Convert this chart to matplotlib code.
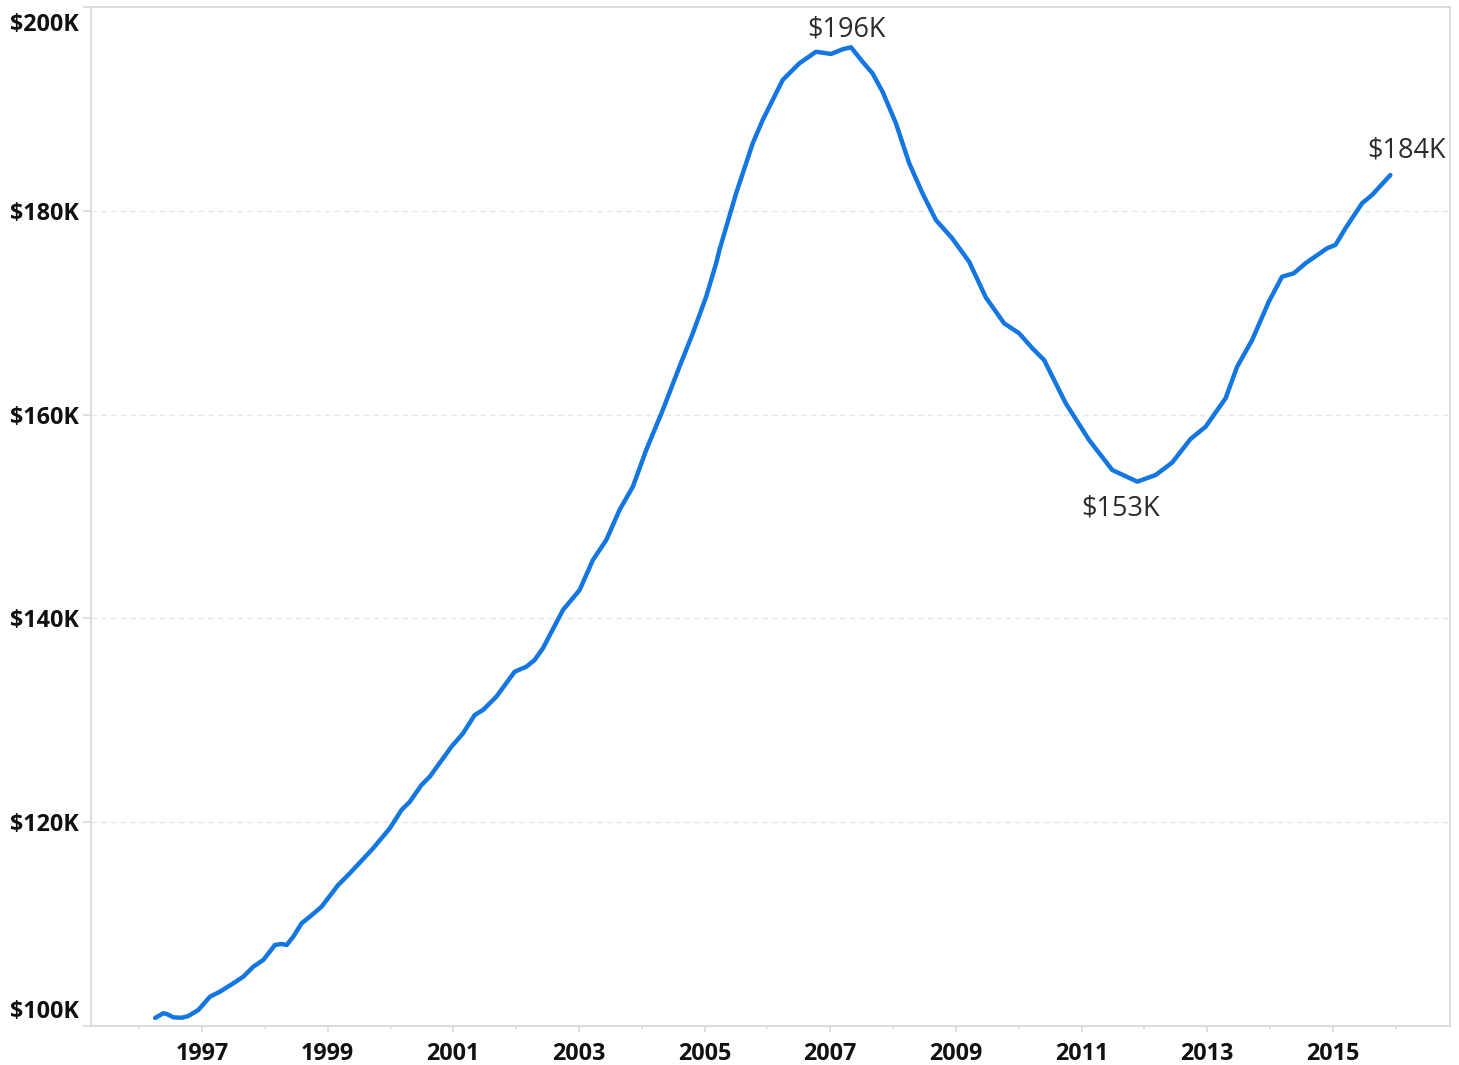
import matplotlib
matplotlib.use("Agg")
import matplotlib.pyplot as plt
import matplotlib.transforms as mtransforms

# ---- data (decimal year, median value in $K) ----
years = [1996.253, 1996.385, 1996.439, 1996.544, 1996.677, 1996.782, 1996.941,
         1997.127, 1997.286, 1997.498, 1997.657, 1997.816, 1997.975,
         1998.161, 1998.267, 1998.347, 1998.452, 1998.585, 1998.717, 1998.903,
         1999.167, 1999.353, 1999.723, 1999.989,
         2000.175, 2000.307, 2000.493, 2000.625, 2000.970,
         2001.154, 2001.340, 2001.472, 2001.685, 2001.976,
         2002.162, 2002.294, 2002.426, 2002.744, 2003.010,
         2003.221, 2003.434, 2003.645, 2003.857, 2004.070,
         2004.334, 2004.599, 2004.811, 2005.024, 2005.183, 2005.235,
         2005.501, 2005.765, 2005.924, 2006.242, 2006.507, 2006.773,
         2007.011, 2007.196, 2007.329, 2007.513, 2007.672, 2007.831,
         2008.044, 2008.256, 2008.467, 2008.680, 2008.940, 2009.210,
         2009.475, 2009.766, 2010.005, 2010.216, 2010.402, 2010.747,
         2011.118, 2011.488, 2011.886, 2012.178, 2012.442, 2012.734,
         2012.973, 2013.291, 2013.475, 2013.714, 2013.979, 2014.190,
         2014.377, 2014.563, 2014.906, 2015.040, 2015.199, 2015.463,
         2015.622, 2015.914]
values = [100.79, 101.25, 101.18, 100.85, 100.81, 100.98, 101.57,
          102.88, 103.37, 104.19, 104.84, 105.82, 106.48,
          107.95, 108.05, 107.95, 108.76, 110.08, 110.73, 111.71,
          113.84, 114.99, 117.44, 119.40,
          121.20, 122.01, 123.65, 124.47, 127.41,
          128.72, 130.52, 131.01, 132.32, 134.77,
          135.26, 135.92, 137.07, 140.82, 142.79,
          145.73, 147.69, 150.64, 152.92, 156.53,
          160.46, 164.70, 167.98, 171.57, 174.85, 176.15,
          181.72, 186.62, 188.91, 192.84, 194.47, 195.61,
          195.39, 195.85, 196.05, 194.63, 193.49, 191.69,
          188.59, 184.66, 181.72, 179.10, 177.30, 175.00,
          171.50, 168.96, 167.98, 166.51, 165.36, 161.11,
          157.51, 154.56, 153.42, 154.07, 155.30, 157.61,
          158.81, 161.60, 164.70, 167.32, 171.08, 173.53,
          173.87, 174.85, 176.32, 176.65, 178.28, 180.74,
          181.55, 183.51]

y_ticks = [100, 120, 140, 160, 180, 200]
y_labels = ["$100K", "$120K", "$140K", "$160K", "$180K", "$200K"]
x_major = [1997, 1999, 2001, 2003, 2005, 2007, 2009, 2011, 2013, 2015]
x_minor = [1996, 1998, 2000, 2002, 2004, 2006, 2008, 2010, 2012, 2014, 2016]

ann_text = ["$196K", "$153K", "$184K"]

LINE = "#1476E0"
FRAME = "#D9D9D9"

W, H = 1459, 1065
fig = plt.figure(figsize=(W / 100, H / 100), dpi=100)
ax = fig.add_axes([91 / W, (H - 1026) / H, (1450 - 91) / W, (1026 - 7) / H])

ax.plot(years, values, color=LINE, lw=3.2, solid_joinstyle="round",
        solid_capstyle="round", zorder=3)

ax.set_xlim(1995.233, 2016.863)
ax.set_ylim(100, 200)

for s in ax.spines.values():
    s.set_color(FRAME)
    s.set_linewidth(1.3)

# grid
for yv in y_ticks[1:-1]:
    ax.axhline(yv, color="#E6E6E6", lw=1.0, ls=(0, (4, 3)), zorder=1)

ax.set_yticks(y_ticks)
ax.set_yticklabels(y_labels)
ax.set_xticks(x_major)
ax.set_xticklabels([str(v) for v in x_major])
ax.set_xticks(x_minor, minor=True)

ax.tick_params(axis="y", length=6, width=1.2, color=FRAME, pad=3,
               labelsize=16.8, labelcolor="#111111")
ax.tick_params(axis="x", which="major", length=4.5, width=1.2, color=FRAME,
               pad=7, labelsize=16.8, labelcolor="#111111")
ax.tick_params(axis="x", which="minor", length=2.5, width=1.2, color=FRAME)

for lab in ax.get_yticklabels() + ax.get_xticklabels():
    lab.set_fontfamily(["Open Sans", "DejaVu Sans"])
    lab.set_fontweight("bold")

ylabs = ax.get_yticklabels()
ylabs[-1].set_transform(ylabs[-1].get_transform() +
                        mtransforms.ScaledTranslation(0, -15 / 100, fig.dpi_scale_trans))
ylabs[0].set_transform(ylabs[0].get_transform() +
                       mtransforms.ScaledTranslation(0, 17 / 100, fig.dpi_scale_trans))

# annotations (peak, trough, last)
i_peak = values.index(max(values))
i_min = values.index(min(values[i_peak:]))
i_last = len(values) - 1
afont = dict(fontsize=19.5, color="#2b2b2b", family=["Open Sans", "DejaVu Sans"],
             ha="center", va="center")
ax.annotate(ann_text[0], (years[i_peak], values[i_peak]), xytext=(-3, 13),
            textcoords="offset points", **afont)
ax.annotate(ann_text[1], (years[i_min], values[i_min]), xytext=(-12, -19),
            textcoords="offset points", **afont)
ax.annotate(ann_text[2], (years[i_last], values[i_last]), xytext=(12, 18),
            textcoords="offset points", **afont)

fig.savefig("out.png", dpi=100, facecolor="white")
